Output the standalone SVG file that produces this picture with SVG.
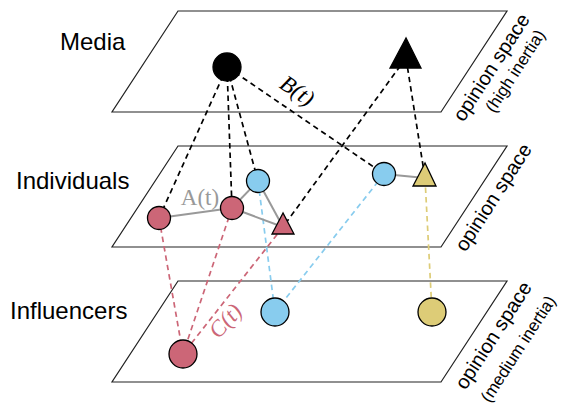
<svg xmlns="http://www.w3.org/2000/svg" width="581" height="416" viewBox="0 0 581 416">
<style>
.plane{fill:none;stroke:#222;stroke-width:1.2}
.lbl{font-family:"Liberation Sans",Arial,sans-serif;font-size:24px;fill:#000}
.os{font-family:"Liberation Sans",Arial,sans-serif;font-size:20px;fill:#000}
.osm{font-family:"Liberation Sans",Arial,sans-serif;font-size:17px;fill:#000}
.math{font-family:"Liberation Serif","Times New Roman",serif;font-size:23px}
.dk{stroke:#000;stroke-width:1.7;stroke-dasharray:5.5,4;fill:none}
.dr{stroke:#CC6677;stroke-width:1.7;stroke-dasharray:5.5,4;fill:none}
.db{stroke:#88CCEE;stroke-width:1.7;stroke-dasharray:5.5,4;fill:none}
.dy{stroke:#DDCC77;stroke-width:1.7;stroke-dasharray:5.5,4;fill:none}
.lk{stroke:#999;stroke-width:2;fill:none}
.red{fill:#CC6677;stroke:#000;stroke-width:1.3}
.blue{fill:#88CCEE;stroke:#000;stroke-width:1.3}
.yel{fill:#DDCC77;stroke:#000;stroke-width:1.3}
.blk{fill:#000;stroke:#000;stroke-width:1.3}
</style>
<g id="planes">
<polygon class="plane" points="178,11 507,11 441,112 112,112"/>
<polygon class="plane" points="178,146 507,146 441,247 112,247"/>
<polygon class="plane" points="178,281 507,281 441,382 112,382"/>
</g>
<g id="labels">
<text class="lbl" x="60" y="50">Media</text>
<text class="lbl" x="16" y="189">Individuals</text>
<text class="lbl" x="10" y="319">Influencers</text>
<text class="os" text-anchor="middle" transform="translate(497,71) rotate(-57)">opinion space</text>
<text class="osm" text-anchor="middle" transform="translate(520,74) rotate(-57)">(high inertia)</text>
<text class="os" text-anchor="middle" transform="translate(499,201) rotate(-57)">opinion space</text>
<text class="os" text-anchor="middle" transform="translate(499,339) rotate(-57)">opinion space</text>
<text class="osm" text-anchor="middle" transform="translate(523,352) rotate(-57)">(medium inertia)</text>
</g>
<g id="connectors">
<line class="dk" x1="227" y1="67" x2="159" y2="218"/>
<line class="dk" x1="227" y1="67" x2="232" y2="208"/>
<line class="dk" x1="227" y1="67" x2="258" y2="181"/>
<line class="dk" x1="227" y1="67" x2="384" y2="174"/>
<line class="dk" x1="406" y1="58" x2="283" y2="227"/>
<line class="dk" x1="406" y1="58" x2="425" y2="178"/>
<line class="dr" x1="159" y1="218" x2="183" y2="354"/>
<line class="dr" x1="232" y1="208" x2="183" y2="354"/>
<line class="dr" x1="283" y1="227" x2="183" y2="354"/>
<line class="db" x1="258" y1="181" x2="275" y2="312"/>
<line class="db" x1="384" y1="174" x2="275" y2="312"/>
<line class="dy" x1="425" y1="178" x2="432" y2="312"/>
<line class="lk" x1="159" y1="218" x2="232" y2="208"/>
<line class="lk" x1="232" y1="208" x2="258" y2="181"/>
<line class="lk" x1="232" y1="208" x2="283" y2="227"/>
<line class="lk" x1="258" y1="181" x2="283" y2="227"/>
<line class="lk" x1="384" y1="174" x2="425" y2="178"/>
<text class="math" fill="#999" x="200" y="205" text-anchor="middle">A(t)</text>
<text class="math" fill="#000" font-style="italic" text-anchor="middle" transform="translate(293,97) rotate(34)">B(t)</text>
<text class="math" fill="#CC6677" font-style="italic" text-anchor="middle" transform="translate(231,326) rotate(-48)">C(t)</text>
</g>
<g id="media-circle"><circle class="blk" cx="227" cy="67" r="14"/></g>
<g id="media-triangle"><polygon class="blk" points="406,38 390,68 421,68"/></g>
<g id="ind-red1"><circle class="red" cx="159" cy="218" r="11.5"/></g>
<g id="ind-red2"><circle class="red" cx="232" cy="208" r="11.5"/></g>
<g id="ind-blue1"><circle class="blue" cx="258" cy="181" r="11.5"/></g>
<g id="ind-blue2"><circle class="blue" cx="384" cy="174" r="11.5"/></g>
<g id="ind-redtri"><polygon class="red" points="283,213 272,234 294,234"/></g>
<g id="ind-yeltri"><polygon class="yel" points="425,163 413,186 436,186"/></g>
<g id="inf-red"><circle class="red" cx="183" cy="354" r="14"/></g>
<g id="inf-blue"><circle class="blue" cx="275" cy="312" r="14"/></g>
<g id="inf-yel"><circle class="yel" cx="432" cy="312" r="14"/></g>
</svg>
